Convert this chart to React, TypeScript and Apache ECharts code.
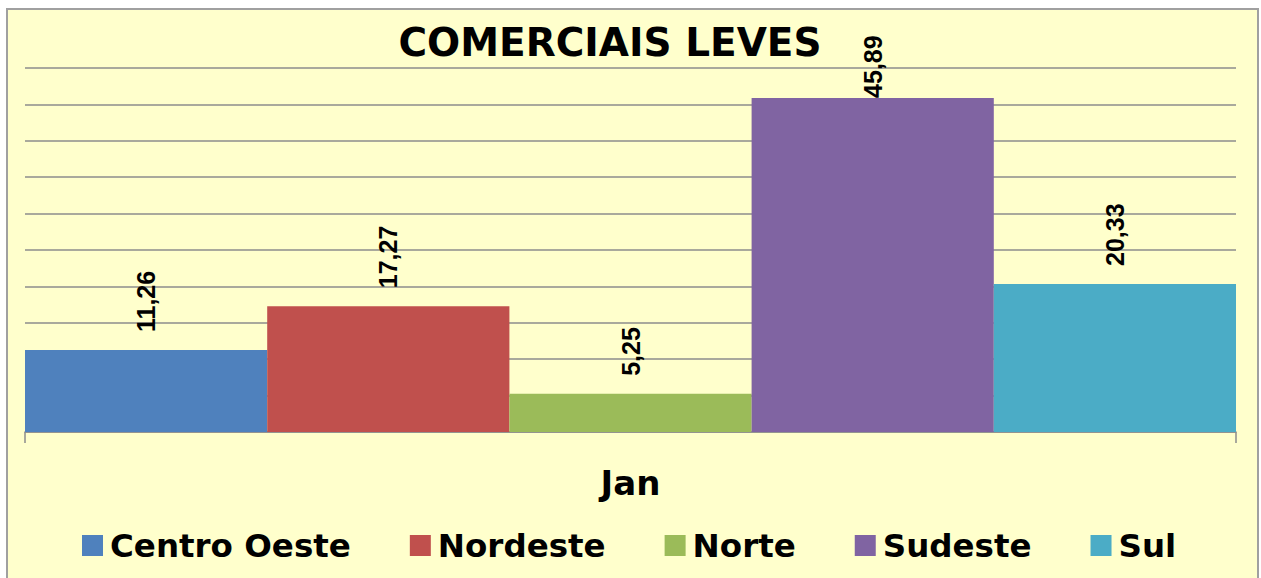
import React, { useEffect, useRef } from "react";
import * as echarts from "echarts";

const categories = ["Jan"];
const seriesNames = ["Centro Oeste", "Nordeste", "Norte", "Sudeste", "Sul"];
const seriesValues = [[11.26], [17.27], [5.25], [45.89], [20.33]];
const seriesColors = ["#4F81BD", "#C0504D", "#9BBB59", "#8064A2", "#4BACC6"];
const labelDistances = [18, 18, 18, 0, 18];
const yMin = 0;
const yMax = 50;
const yInterval = 5;

const TITLE_FONT = "'DejaVu Sans', sans-serif";
const LABEL_FONT = "'Liberation Sans', Arial, sans-serif";

export default function App() {
  const ref = useRef<HTMLDivElement>(null);

  useEffect(() => {
    if (!ref.current) return;
    const chart = echarts.init(ref.current, null, { renderer: "svg" });
    const option: any = {
      animation: false,
      backgroundColor: "#ffffff",
      graphic: [
        {
          type: "rect",
          z: -10,
          silent: true,
          shape: { x: 7, y: 9, width: 1251, height: 600 },
          style: { fill: "#FFFFCC", stroke: "#A0A0A0", lineWidth: 2 },
        },
      ],
      title: {
        text: "COMERCIAIS LEVES",
        left: 610,
        textAlign: "center",
        top: 23,
        padding: 0,
        textStyle: {
          fontFamily: TITLE_FONT,
          fontWeight: "bold",
          fontSize: 39,
          lineHeight: 38,
          color: "#000000",
        },
      },
      legend: {
        left: 82,
        top: 529,
        padding: 0,
        itemWidth: 21,
        itemHeight: 21,
        itemGap: 59,
        icon: "rect",
        data: seriesNames,
        textStyle: {
          fontFamily: TITLE_FONT,
          fontWeight: "bold",
          fontSize: 32.5,
          lineHeight: 33,
          color: "#000000",
          padding: [0, 0, 0, 2],
        },
      },
      grid: { left: 25, right: 25, top: 68, bottom: 146, containLabel: false },
      xAxis: {
        type: "category",
        data: categories,
        axisLine: { show: true, lineStyle: { color: "#8C8C8C", width: 1.5 } },
        axisTick: { show: true, length: 11, lineStyle: { color: "#8C8C8C", width: 1.5 } },
        axisLabel: {
          margin: 34,
          fontFamily: TITLE_FONT,
          fontWeight: "bold",
          fontSize: 34,
          lineHeight: 34,
          color: "#000000",
        },
      },
      yAxis: {
        type: "value",
        min: yMin,
        max: yMax,
        interval: yInterval,
        axisLine: { show: false },
        axisTick: { show: false },
        axisLabel: { show: false },
        splitLine: { show: true, lineStyle: { color: "#8C8C8C", width: 1.5 } },
      },
      series: seriesNames.map((name, i) => ({
        name,
        type: "bar",
        data: seriesValues[i],
        barGap: "0%",
        barCategoryGap: "0%",
        itemStyle: { color: seriesColors[i] },
        label: {
          show: true,
          position: "top",
          rotate: 90,
          align: "left",
          verticalAlign: "middle",
          distance: labelDistances[i],
          fontFamily: LABEL_FONT,
          fontWeight: "bold",
          fontSize: 25,
          color: "#000000",
          formatter: (p: any) => p.value.toFixed(2).replace(".", ","),
        },
      })),
    };
    chart.setOption(option);
    return () => chart.dispose();
  }, []);

  return (
    <div
      ref={ref}
      style={{ position: "fixed", left: 0, top: 0, width: 1261, height: 578 }}
    />
  );
}
